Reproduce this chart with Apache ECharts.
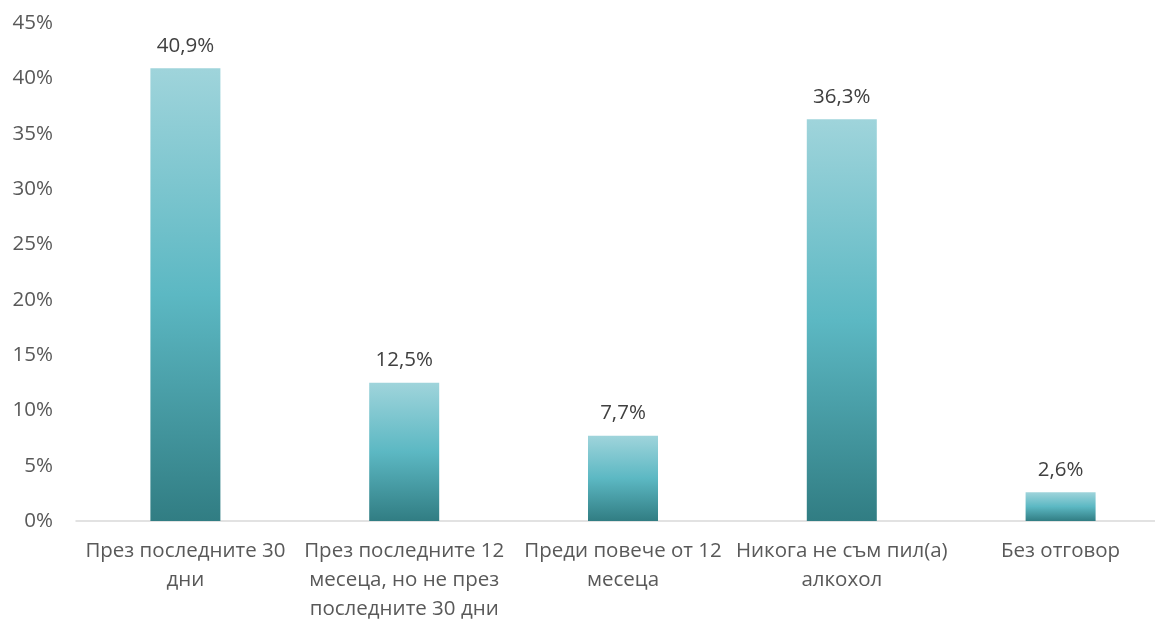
<!DOCTYPE html>
<html><head><meta charset="utf-8">
<script src="https://cdn.jsdelivr.net/npm/echarts@6/dist/echarts.min.js"></script>
<style>html,body{margin:0;padding:0;background:#fff}#c{width:1155px;height:620px}</style>
</head><body><div id="c"></div>
<script>
const categories = ["През последните 30\nдни", "През последните 12\nмесеца, но не през\nпоследните 30 дни", "Преди повече от 12\nмесеца", "Никога не съм пил(а)\nалкохол", "Без отговор"];
const values = [40.9, 12.5, 7.7, 36.3, 2.6];
const yTicks = [0, 5, 10, 15, 20, 25, 30, 35, 40, 45];

const chart = echarts.init(document.getElementById('c'));
const font = '"Open Sans", sans-serif';
chart.setOption({
  animation: false,
  grid: { left: 76, top: 23, width: 1094, bottom: 99, containLabel: false, outerBoundsMode: 'none' },
  xAxis: {
    type: 'category', data: categories,
    axisLine: { lineStyle: { color: '#d9d9d9', width: 1.5 } },
    axisTick: { show: false },
    axisLabel: { color: '#595959', fontFamily: font, fontSize: 20.5, lineHeight: 29, margin: 16, interval: 0, hideOverlap: false }
  },
  yAxis: {
    type: 'value', min: yTicks[0], max: yTicks[yTicks.length - 1], interval: 5,
    splitLine: { show: false },
    axisLine: { show: false }, axisTick: { show: false },
    axisLabel: { color: '#595959', fontFamily: font, fontSize: 20.5, margin: 23, formatter: v => v + '%' }
  },
  series: [{
    type: 'bar', data: values, barWidth: 70,
    itemStyle: {
      color: new echarts.graphic.LinearGradient(0, 0, 0, 1, [
        { offset: 0, color: '#9fd4db' },
        { offset: 0.5, color: '#5cb8c3' },
        { offset: 1, color: '#317d83' }
      ])
    },
    label: { show: true, position: 'top', distance: 12, color: '#404040', fontFamily: font, fontSize: 20.5,
      formatter: p => String(p.value).replace('.', ',') + '%' }
  }]
});
</script></body></html>
